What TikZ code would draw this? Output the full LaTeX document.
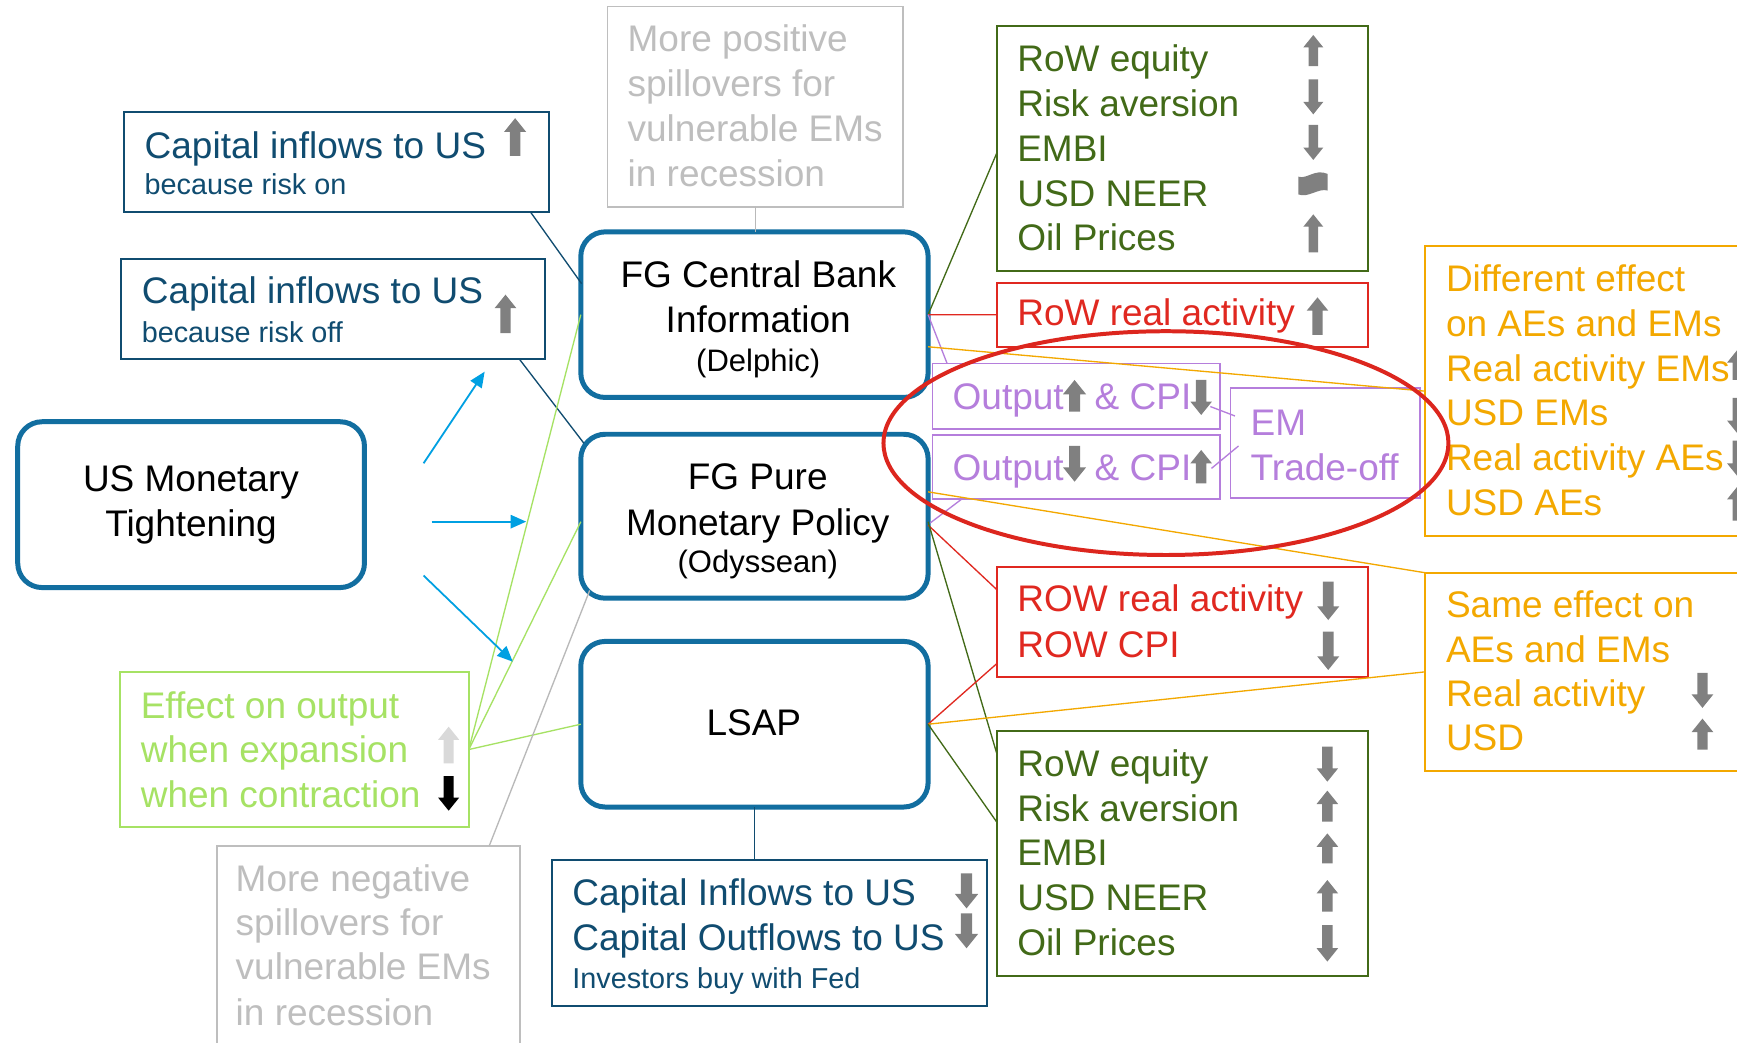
\documentclass[tikz,border=0pt]{standalone}
\usepackage{fontspec}
\setmainfont{Liberation Sans}
\usetikzlibrary{arrows.meta,calc}

\definecolor{capblue}{RGB}{16,76,112}
\definecolor{mainblue}{RGB}{18,110,160}
\definecolor{flowblue}{RGB}{0,160,226}
\definecolor{softgray}{RGB}{190,190,190}
\definecolor{linegray}{RGB}{185,185,185}
\definecolor{limegreen}{RGB}{166,226,100}
\definecolor{darkgreen}{RGB}{66,106,24}
\definecolor{boxred}{RGB}{224,40,32}
\definecolor{ringred}{RGB}{220,38,30}
\definecolor{lilac}{RGB}{181,126,220}
\definecolor{amber}{RGB}{243,168,0}
\definecolor{arrgray}{RGB}{128,128,128}
\definecolor{palegray}{RGB}{217,217,217}

% block arrows: centre x, top y, bottom y, width, colour
\newcommand\upblk[5]{%
  \pgfmathsetmacro\blkHW{#4/2}%
  \pgfmathsetmacro\blkSW{#4*0.24}%
  \pgfmathsetmacro\blkHL{#2+#4*0.62}%
  \fill[#5] (#1,#2) -- ({#1+\blkHW},\blkHL) -- ({#1+\blkSW},\blkHL) -- ({#1+\blkSW},#3)
    -- ({#1-\blkSW},#3) -- ({#1-\blkSW},\blkHL) -- ({#1-\blkHW},\blkHL) -- cycle;}
\newcommand\dnblk[5]{%
  \pgfmathsetmacro\blkHW{#4/2}%
  \pgfmathsetmacro\blkSW{#4*0.24}%
  \pgfmathsetmacro\blkHL{#3-#4*0.62}%
  \fill[#5] (#1,#3) -- ({#1+\blkHW},\blkHL) -- ({#1+\blkSW},\blkHL) -- ({#1+\blkSW},#2)
    -- ({#1-\blkSW},#2) -- ({#1-\blkSW},\blkHL) -- ({#1-\blkHW},\blkHL) -- cycle;}

\begin{document}
\begin{tikzpicture}[x=1pt,y=-1pt,
  lnw/.style={anchor=base west,inner sep=0pt,outer sep=0pt},
  lnc/.style={anchor=base,inner sep=0pt,outer sep=0pt},
  big/.style={font=\fontsize{33.4pt}{40pt}\selectfont},
  small/.style={font=\fontsize{26pt}{30pt}\selectfont},
  paren/.style={font=\fontsize{28pt}{32pt}\selectfont},
  bx/.style={draw=#1,rectangle,inner sep=0pt,outer sep=0pt,anchor=north west,line width=1.7pt},
  mainbox/.style={draw=mainblue,rectangle,rounded corners=22pt,line width=4.5pt,
    inner sep=0pt,outer sep=0pt,anchor=north west,minimum width=313.5pt},
  link/.style={draw=#1,line width=1.2pt},
  push/.style={draw=flowblue,line width=1.6pt,-{Triangle[length=14pt,width=12pt]}}
]
\useasboundingbox (0,0) rectangle (1568,941);
\fill[white] (0,0) rectangle (1568,941);
\clip (0,0) rectangle (1568,941);

% ---- main policy boxes
\node[mainbox,minimum width=313pt,minimum height=149.7pt] (tight) at (16,380.7) {};
\node[mainbox,minimum height=149.5pt] (cb) at (524.3,209.3) {};
\node[mainbox,minimum height=148pt] (fp) at (524.3,392) {};
\node[mainbox,minimum height=149.5pt] (lsap) at (524.3,579) {};

% ---- framed boxes
\node[bx=capblue,minimum width=383.3pt,minimum height=90.2pt] (cap1) at (112.2,100.8) {};
\node[bx=capblue,minimum width=382.4pt,minimum height=90.4pt] (cap2) at (109.6,234) {};
\node[bx=softgray,line width=1.5pt,minimum width=266.9pt,minimum height=180.6pt] (pos) at (548.5,6) {};
\node[bx=limegreen,minimum width=315.2pt,minimum height=139.2pt] (eff) at (108,607) {};
\node[bx=softgray,line width=1.5pt,minimum width=273.6pt,minimum height=200pt] (neg) at (195.7,763.4) {};
\node[bx=capblue,minimum width=392.8pt,minimum height=131.8pt] (capb) at (498.3,776.3) {};
\node[bx=darkgreen,minimum width=335.5pt,minimum height=220.8pt] (gup) at (899.7,23.5) {};
\node[bx=boxred,minimum width=335.5pt,minimum height=57.8pt] (r1) at (899.7,255.2) {};
\node[bx=lilac,line width=1.5pt,minimum width=259.3pt,minimum height=59.3pt] (o1) at (841.9,328) {};
\node[bx=lilac,line width=1.5pt,minimum width=259.3pt,minimum height=58pt] (o2) at (841.9,392.7) {};
\node[bx=lilac,line width=1.5pt,minimum width=171.3pt,minimum height=99.3pt] (em) at (1110.7,350.5) {};
\node[bx=amber,minimum width=320pt,minimum height=262.2pt] (diff) at (1286.3,222) {};
\node[bx=amber,minimum width=320pt,minimum height=179pt] (same) at (1286.3,517) {};
\node[bx=boxred,minimum width=335.5pt,minimum height=99.3pt] (r2) at (899.7,511.5) {};
\node[bx=darkgreen,minimum width=335.5pt,minimum height=221.1pt] (gdn) at (899.7,659.9) {};

% ---- connectors
\draw[link=capblue] ($(cap1.south east)+(-16.9,0)$) -- ($(cb.west)+(0.7,-28)$);
\draw[link=capblue] ($(cap2.south east)+(-23,0)$) -- ($(fp.north west)+(2.7,8)$);
\draw[link=linegray] (pos.south) -- (pos.south |- cb.north);
\draw[link=limegreen] (eff.east) -- (cb.west);
\draw[link=limegreen] (eff.east) -- ($(fp.west)+(0,5)$);
\draw[link=limegreen] (eff.east) -- (lsap.west);
\draw[link=linegray] ($(neg.north west)+(246,0)$) -- ($(fp.south west)+(8,-7)$);
\draw[link=capblue] (lsap.south) -- (lsap.south |- capb.north);

\draw[link=darkgreen] (cb.east) -- ($(gup.west)+(0,4.5)$);
\draw[link=boxred] (cb.east) -- (r1.west);
\draw[link=lilac] (cb.east) -- ($(o1.north west)+(13,0)$);
\draw[link=amber] ($(cb.east)+(0,29)$) -- (diff.west);

\draw[link=amber] ($(fp.east)+(0,-22)$) -- (same.north west);
\draw[link=lilac] ($(fp.east)+(2,6)$) -- ($(o2.south west)+(26,0)$);
\draw[link=boxred] ($(fp.east)+(0,8)$) -- ($(r2.west)+(0,-29)$);
\draw[link=darkgreen] ($(fp.east)+(0,5)$) -- ($(gdn.north west)+(0,20)$);

\draw[link=boxred] (lsap.east) -- ($(r2.west)+(0,38)$);
\draw[link=amber] (lsap.east) -- (same.west);
\draw[link=darkgreen] (lsap.east) -- ($(gdn.west)+(0,-28.5)$);

\draw[link=lilac] ($(o1.east)+(-8.6,9.35)$) -- ($(em.west)+(4.1,-24.65)$);
\draw[link=lilac] ($(o2.east)+(-7.6,1.1)$) -- ($(em.west)+(7.3,2.45)$);

% ---- transmission arrows
\coordinate (b1s) at (382.4,418.2); \coordinate (b1e) at (437.5,335.5);
\coordinate (b2s) at (389.7,470.9); \coordinate (b2e) at (475,470.9);
\coordinate (b3s) at (382.4,519.6); \coordinate (b3e) at (462.9,597.3);
\draw[push] (b1s) -- (b1e);
\draw[push] (b2s) -- (b2e);
\draw[push] (b3s) -- (b3e);

% ---- texts in the main boxes
\node[lnc,big] (tightA) at (172.4,443.8) {US Monetary};
\node[lnc,big] (tightB) at (172.4,484.5) {Tightening};
\node[lnc,big] (cbA) at (684.5,259.4) {FG Central Bank};
\node[lnc,big] (cbB) at (684.5,300.4) {Information};
\node[lnc,paren] (cbC) at (684.5,335) {(Delphic)};
\node[lnc,big] (fpA) at (684,441.5) {FG Pure};
\node[lnc,big] (fpB) at (684,483.6) {Monetary Policy};
\node[lnc,paren] (fpC) at (684,516.7) {(Odyssean)};
\node[lnc,big] (lsapA) at (680.5,663.5) {LSAP};

% ---- capital flow boxes
\node[lnw,big,text=capblue] (cap1A) at (130.6,143) {Capital inflows to US};
\node[lnw,small,text=capblue] (cap1B) at (130.6,176) {because risk on};
\upblk{465}{106.7}{140.8}{20}{arrgray}
\node[lnw,big,text=capblue] (cap2A) at (128,274.4) {Capital inflows to US};
\node[lnw,small,text=capblue] (cap2B) at (128,309.3) {because risk off};
\upblk{456.3}{266}{300.8}{19.5}{arrgray}

\node[lnw,big,text=capblue] (capbA) at (516.7,817.8) {Capital Inflows to US};
\node[lnw,big,text=capblue] (capbB) at (516.7,857.6) {Capital Outflows to US};
\node[lnw,small,text=capblue] (capbC) at (516.7,892.2) {Investors buy with Fed};
\dnblk{872.5}{788.4}{820}{21}{arrgray}
\dnblk{872.5}{824.5}{856}{21}{arrgray}

% ---- spillover notes
\node[lnw,big,text=softgray] (posA) at (566.6,46.7) {More positive};
\node[lnw,big,text=softgray] (posB) at (566.6,87.3) {spillovers for};
\node[lnw,big,text=softgray] (posC) at (566.6,127.9) {vulnerable EMs};
\node[lnw,big,text=softgray] (posD) at (566.6,168.5) {in recession};

\node[lnw,big,text=softgray] (negA) at (212.8,804.9) {More negative};
\node[lnw,big,text=softgray] (negB) at (212.8,844.7) {spillovers for};
\node[lnw,big,text=softgray] (negC) at (212.8,884.6) {vulnerable EMs};
\node[lnw,big,text=softgray] (negD) at (212.8,925.3) {in recession};

\node[lnw,big,text=limegreen] (effA) at (127.1,648.4) {Effect on output};
\node[lnw,big,text=limegreen] (effB) at (127.1,688.2) {when expansion};
\node[lnw,big,text=limegreen] (effC) at (127.1,728.8) {when contraction};
\upblk{405}{656}{689}{19}{palegray}
\dnblk{405}{700.5}{731.8}{19}{black}

% ---- financial variables
\node[lnw,big,text=darkgreen] (gupA) at (918.3,64.7) {RoW equity};
\node[lnw,big,text=darkgreen] (gupB) at (918.3,105.3) {Risk aversion};
\node[lnw,big,text=darkgreen] (gupC) at (918.3,145.9) {EMBI};
\node[lnw,big,text=darkgreen] (gupD) at (918.3,186) {USD NEER};
\node[lnw,big,text=darkgreen] (gupE) at (918.3,226.3) {Oil Prices};
\upblk{1185.5}{31.6}{59.6}{18}{arrgray}
\dnblk{1185.5}{71.6}{103.2}{18}{arrgray}
\dnblk{1185.5}{112.8}{144.4}{18}{arrgray}
\fill[arrgray] (1172,159.5) .. controls (1180,162) and (1187,152) .. (1198.5,157)
  -- (1198.5,172) .. controls (1190,169.5) and (1181,179) .. (1172,175.5) -- cycle;
\upblk{1185.5}{193.5}{227.8}{18}{arrgray}

\node[lnw,big,text=darkgreen] (gdnA) at (918.3,701.3) {RoW equity};
\node[lnw,big,text=darkgreen] (gdnB) at (918.3,741.5) {Risk aversion};
\node[lnw,big,text=darkgreen] (gdnC) at (918.3,781.7) {EMBI};
\node[lnw,big,text=darkgreen] (gdnD) at (918.3,821.9) {USD NEER};
\node[lnw,big,text=darkgreen] (gdnE) at (918.3,862.1) {Oil Prices};
\dnblk{1198.2}{674}{705.6}{19.5}{arrgray}
\upblk{1198.2}{713.7}{741.7}{19.5}{arrgray}
\upblk{1198.2}{752.3}{779.3}{19.5}{arrgray}
\upblk{1198.2}{794.4}{823}{19.5}{arrgray}
\dnblk{1198.2}{835}{868}{19.5}{arrgray}

% ---- real activity
\node[lnw,big,text=boxred] (r1A) at (918.3,293.4) {RoW real activity};
\upblk{1189.3}{268.4}{302.4}{19.5}{arrgray}
\node[lnw,big,text=boxred] (r2A) at (918.3,552.1) {ROW real activity};
\node[lnw,big,text=boxred] (r2B) at (918.3,593.4) {ROW CPI};
\dnblk{1199}{525}{559.7}{20}{arrgray}
\dnblk{1199}{570.2}{604.8}{20}{arrgray}

% ---- trade-off
\node[lnw,big,text=lilac] (o1A) at (860,370.1) {Output};
\node[lnw,big,text=lilac] (o1B) at (988.2,370.1) {\& CPI};
\upblk{970}{343}{371.6}{20.8}{arrgray}
\dnblk{1084.3}{343}{374.6}{19.5}{arrgray}
\node[lnw,big,text=lilac] (o2A) at (860,433.3) {Output};
\node[lnw,big,text=lilac] (o2B) at (988.2,433.3) {\& CPI};
\dnblk{970}{402.6}{434.8}{20.8}{arrgray}
\upblk{1084.3}{406.2}{436.3}{19.5}{arrgray}
\node[lnw,big,text=lilac] (emA) at (1129,392.7) {EM};
\node[lnw,big,text=lilac] (emB) at (1129,433.3) {Trade-off};

% ---- AEs versus EMs
\node[lnw,big,text=amber] (diffA) at (1305.3,263.5) {Different effect};
\node[lnw,big,text=amber] (diffB) at (1305.3,303.8) {on AEs and EMs};
\node[lnw,big,text=amber] (diffC) at (1305.3,344.1) {Real activity EMs};
\node[lnw,big,text=amber] (diffD) at (1305.3,384.4) {USD EMs};
\node[lnw,big,text=amber] (diffE) at (1305.3,424.7) {Real activity AEs};
\node[lnw,big,text=amber] (diffF) at (1305.3,465) {USD AEs};
\upblk{1568.5}{315.6}{343}{19}{arrgray}
\dnblk{1568.5}{359.2}{391.4}{19}{arrgray}
\dnblk{1568.5}{397.8}{430}{19}{arrgray}
\upblk{1568.5}{439}{470}{19}{arrgray}

\node[lnw,big,text=amber] (sameA) at (1305.3,557.5) {Same effect on};
\node[lnw,big,text=amber] (sameB) at (1305.3,597.8) {AEs and EMs};
\node[lnw,big,text=amber] (sameC) at (1305.3,638.1) {Real activity};
\node[lnw,big,text=amber] (sameD) at (1305.3,677.5) {USD};
\dnblk{1536.8}{607.4}{639}{19.6}{arrgray}
\upblk{1536.8}{648.7}{676.6}{19.6}{arrgray}

% ---- highlight ring
\draw[ringred,line width=3.6pt] (1052.5,400) ellipse [x radius=255pt, y radius=101pt];
\end{tikzpicture}
\end{document}
